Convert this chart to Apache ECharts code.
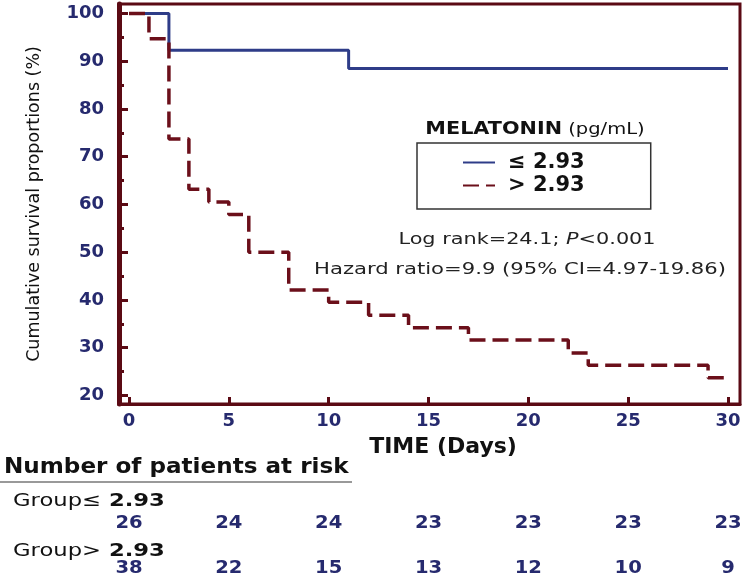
<!DOCTYPE html>
<html><head><meta charset="utf-8">
<script src="https://cdn.jsdelivr.net/npm/echarts@6/dist/echarts.min.js"></script>
<style>html,body{margin:0;padding:0;background:#fff}#c{width:745px;height:581px}</style>
</head><body><div id="c"></div>
<script>
// ---- data ----
const timesLow = [0, 2, 11, 30];
const survLow = [100, 92.3, 88.5, 88.5];
const timesHigh = [0, 1, 2, 3, 4, 5, 6, 8, 10, 12, 14, 17, 22, 23, 29, 30];
const survHigh = [100, 94.7, 73.7, 63.2, 60.5, 57.9, 50.0, 42.1, 39.5, 36.8, 34.2, 31.6, 28.9, 26.3, 23.7, 23.7];
const yTicks = [20, 30, 40, 50, 60, 70, 80, 90, 100];
const yMinorTicks = [25, 35, 45, 55, 65, 75, 85, 95];
const xTicks = [0, 5, 10, 15, 20, 25, 30];
const riskTimes = [0, 5, 10, 15, 20, 25, 30];
const riskLow = [26, 24, 24, 23, 23, 23, 23];
const riskHigh = [38, 22, 15, 13, 12, 10, 9];
const seriesNames = ['≤ 2.93', '> 2.93'];
const groupLabels = ['Group≤', 'Group>'];
const groupValue = ' 2.93';

// ---- styles ----
const AX = '#5B0A14';
const NAVY = '#262A6E';
const BLUE = '#2E3C88';
const RED = '#6B0F1A';
const FONT = 'DejaVu Sans';

const chart = echarts.init(document.getElementById('c'));
const option = {
  animation: false,
  backgroundColor: '#fff',
  grid: { left: 119, right: 5, top: 4, bottom: 177, show: true, borderColor: AX, borderWidth: 3 },
  legend: {
    data: seriesNames, orient: 'vertical', left: 417, top: 143,
    padding: [9, 66, 13, 45], itemGap: 2, itemWidth: 32, itemHeight: 14,
    borderColor: '#333', borderWidth: 1.5, selectedMode: false,
    itemStyle: { opacity: 0, borderWidth: 0 },
    textStyle: { color: '#111', fontFamily: FONT, fontWeight: 'bold', fontSize: 21, lineHeight: 20, padding: [0, 0, 0, 8] }
  },
  xAxis: {
    type: 'value', min: -0.5, max: 30.6,
    axisLine: { show: true, onZero: false, lineStyle: { color: AX, width: 3 } },
    axisTick: { show: true, inside: true, length: 7, customValues: xTicks, lineStyle: { color: AX, width: 3 } },
    axisLabel: { customValues: xTicks, color: NAVY, fontFamily: FONT, fontWeight: 'bold', fontSize: 18, margin: 8 },
    splitLine: { show: false },
    name: 'TIME (Days)', nameLocation: 'middle', nameGap: 32,
    nameTextStyle: { color: '#111', fontFamily: FONT, fontWeight: 'bold', fontSize: 22, padding: [0, 0, 0, 27] }
  },
  yAxis: [{
    type: 'value', min: 18.2, max: 102,
    axisLine: { show: true, onZero: false, lineStyle: { color: AX, width: 5 } },
    axisTick: { show: true, inside: true, length: 9, customValues: yTicks, lineStyle: { color: AX, width: 3 } },
    axisLabel: { customValues: yTicks, color: NAVY, fontFamily: FONT, fontWeight: 'bold', fontSize: 18, margin: 15 },
    splitLine: { show: false },
    name: 'Cumulative survival proportions (%)', nameLocation: 'middle', nameGap: 76, nameRotate: 90,
    nameTextStyle: { color: '#111', fontFamily: FONT, fontSize: 17.5 }
  }, {
    type: 'value', min: 18.2, max: 102, position: 'left',
    axisLine: { show: false, onZero: false },
    axisTick: { show: true, inside: true, length: 5, customValues: yMinorTicks, lineStyle: { color: AX, width: 3 } },
    axisLabel: { show: false },
    splitLine: { show: false }
  }],
  series: [{
    name: seriesNames[0], type: 'line', step: 'end', symbol: 'none', z: 2,
    data: timesLow.map((t, i) => [t, survLow[i]]),
    lineStyle: { color: BLUE, width: 3 }, itemStyle: { color: BLUE }
  }, {
    name: seriesNames[1], type: 'line', step: 'end', symbol: 'none', z: 3,
    data: timesHigh.map((t, i) => [t, survHigh[i]]),
    lineStyle: { color: RED, width: 3.5, type: [16, 7], cap: 'butt' }, itemStyle: { color: RED }
  }]
};
chart.setOption(option);

function txt(x, y, text, opts) {
  return {
    type: 'text', x: x, y: y, scaleX: opts.sx || 1, silent: true,
    style: Object.assign({
      text: text, x: 0, y: 0, align: opts.align || 'center', verticalAlign: 'middle',
      fill: opts.color || '#111', fontFamily: FONT, fontSize: opts.size || 16,
      fontWeight: opts.weight || 'normal'
    }, opts.rich ? { rich: opts.rich } : {})
  };
}

const g = [];
g.push(txt(535, 130, '{b|MELATONIN} {r|(pg/mL)}', { sx: 1.22, rich: {
  b: { fontFamily: FONT, fontWeight: 'bold', fontSize: 17, fill: '#111' },
  r: { fontFamily: FONT, fontSize: 16, fill: '#111' } } }));
g.push(txt(527, 240, 'Log rank=24.1; {i|P}<0.001', { sx: 1.3, size: 16, color: '#222', rich: {
  i: { fontFamily: FONT, fontStyle: 'italic', fontSize: 16, fill: '#222' } } }));
g.push(txt(520, 270, 'Hazard ratio=9.9 (95% CI=4.97-19.86)', { sx: 1.32, size: 16, color: '#222' }));
g.push(txt(4, 467, 'Number of patients at risk', { align: 'left', sx: 1.05, size: 22, weight: 'bold' }));
g.push({ type: 'line', silent: true, shape: { x1: 0, y1: 482, x2: 352, y2: 482 }, style: { stroke: '#777', lineWidth: 1.5 } });
const rowY = [[501, 524], [551, 569]];
const riskRows = [riskLow, riskHigh];
for (let r = 0; r < 2; r++) {
  g.push(txt(13, rowY[r][0], '{a|' + groupLabels[r] + '}{b|' + groupValue + '}', { align: 'left', sx: 1.26, rich: {
    a: { fontFamily: FONT, fontSize: 18, fill: '#111' },
    b: { fontFamily: FONT, fontSize: 18, fontWeight: 'bold', fill: '#111' } } }));
  riskTimes.forEach((t, i) => {
    const px = chart.convertToPixel({ xAxisIndex: 0 }, t);
    g.push(txt(px, rowY[r][1], String(riskRows[r][i]), { sx: 1.15, size: 17, weight: 'bold', color: NAVY }));
  });
}
chart.setOption({ graphic: g });
</script>
</body></html>
